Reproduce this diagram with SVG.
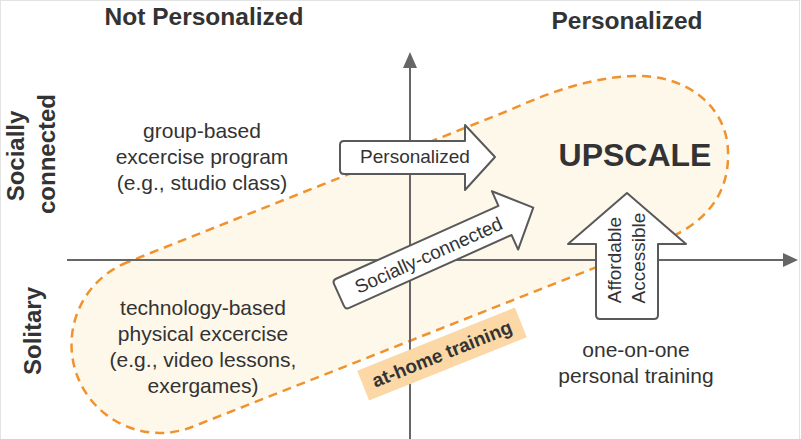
<svg xmlns="http://www.w3.org/2000/svg" width="801" height="439" viewBox="0 0 801 439">
<defs>
<style>
.t{font-family:"Liberation Sans",Arial,sans-serif;fill:#333;}
.h{font-weight:bold;font-size:24.5px;}
.side{font-weight:bold;font-size:24px;}
.q{font-size:21px;text-anchor:middle;}
.arrow{fill:#fff;stroke:#595959;stroke-width:2;stroke-linejoin:round;}
.at{font-size:19px;text-anchor:middle;}
.axis{stroke:#666;stroke-width:2;fill:none;}
</style>
</defs>
<rect x="0.5" y="0.5" width="799" height="445" fill="#fff" stroke="#e3e3e3" stroke-width="1"/>

<g id="blob">
<path d="M128,262 A88,88 0 0 0 192,427 L660,242 C705,224 730,195 728,150 C726,105 685,74 633,76 C590,78 555,90 505,112 Z" fill="#FEF8EB" stroke="#F0922E" stroke-width="2.5" stroke-dasharray="9 6"/>
</g>

<g id="axes">
<line class="axis" x1="410" y1="439" x2="410" y2="66"/>
<polygon points="410,52 403,68 417,68" fill="#666"/>
<line class="axis" x1="67" y1="260" x2="785" y2="260"/>
<polygon points="798,260 783,253 783,267" fill="#666"/>
</g>

<g id="headers">
<text class="t h" x="204" y="25" text-anchor="middle">Not Personalized</text>
<text class="t h" x="627" y="29" text-anchor="middle">Personalized</text>
<text class="t side" transform="translate(24,156) rotate(-90)" text-anchor="middle">Socially</text>
<text class="t side" transform="translate(55,154) rotate(-90)" text-anchor="middle">connected</text>
<text class="t side" transform="translate(41,331) rotate(-90)" text-anchor="middle">Solitary</text>
</g>

<g id="q-group">
<text class="t q" x="202" y="138">group-based</text>
<text class="t q" x="202" y="164">excercise program</text>
<text class="t q" x="202" y="190">(e.g., studio class)</text>
</g>

<g id="q-tech">
<text class="t q" x="203" y="315" fill="#222">technology-based</text>
<text class="t q" x="203" y="341">physical excercise</text>
<text class="t q" x="203" y="367">(e.g., video lessons,</text>
<text class="t q" x="203" y="393">exergames)</text>
</g>

<g id="q-personal">
<text class="t q" x="636" y="357">one-on-one</text>
<text class="t q" x="636" y="383">personal training</text>
</g>

<g id="upscale">
<text class="t" x="635" y="166" text-anchor="middle" font-weight="bold" font-size="32">UPSCALE</text>
</g>

<g id="label-athome" transform="translate(442,354) rotate(-21.9)">
<rect x="-85" y="-16" width="170" height="32" fill="#FCD8A6"/>
<text class="t" x="0" y="6.5" text-anchor="middle" font-weight="bold" font-size="19">at-home training</text>
</g>

<g id="arrow-personalized">
<path class="arrow" d="M344,141 L465,141 L465,125 L495,157 L465,190 L465,174 L344,174 Q340,174 340,170 L340,145 Q340,141 344,141 Z"/>
<text class="t at" x="415" y="163">Personalized</text>
</g>

<g id="arrow-social" transform="translate(339,295) rotate(-24.2)">
<path class="arrow" d="M4,-16 L182,-16 L182,-32 L213,0 L182,32 L182,16 L4,16 Q0,16 0,12 L0,-12 Q0,-16 4,-16 Z"/>
<text class="t at" x="98" y="7">Socially-connected</text>
</g>

<g id="arrow-access">
<path class="arrow" d="M627,193 L686,244 L658,244 L658,315 Q658,319 654,319 L600,319 Q596,319 596,315 L596,244 L568,244 Z"/>
<text class="t" transform="translate(621,260) rotate(-90)" text-anchor="middle" font-size="19">Affordable</text>
<text class="t" transform="translate(645,258) rotate(-90)" text-anchor="middle" font-size="19">Accessible</text>
</g>
</svg>
